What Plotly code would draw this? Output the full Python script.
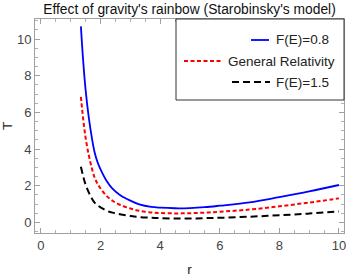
import plotly.graph_objects as go

r_vals = [1.34, 1.42, 1.5, 1.6, 1.7, 1.8, 1.9, 2.0, 2.2, 2.4, 2.65, 3.0, 3.3, 3.7,
          4.0, 4.5, 5.0, 5.5, 6.0, 7.0, 8.0, 9.0, 10.0]
T_f08 = [10.7, 8.75, 7.2, 5.78, 4.69, 3.83, 3.28, 2.89, 2.27, 1.84, 1.5, 1.19, 0.98, 0.84,
         0.8, 0.77, 0.78, 0.83, 0.91, 1.09, 1.38, 1.69, 2.04]
T_gr = [6.85, 5.6, 4.6, 3.7, 3.0, 2.45, 2.1, 1.85, 1.45, 1.18, 0.96, 0.76, 0.63, 0.54,
        0.51, 0.49, 0.5, 0.53, 0.58, 0.7, 0.88, 1.08, 1.31]
T_f15 = [3.04, 2.5, 2.05, 1.65, 1.33, 1.08, 0.93, 0.82, 0.64, 0.53, 0.44, 0.35, 0.29, 0.25,
         0.23, 0.21, 0.21, 0.23, 0.25, 0.31, 0.39, 0.48, 0.6]
series_names = ["F(E)=0.8", "General Relativity", "F(E)=1.5"]
x_ticks = [0, 2, 4, 6, 8, 10]
y_ticks = [0, 2, 4, 6, 8, 10]

W, H = 346, 277
L, R, T, B = 35, 344, 19, 233

def px(x):
    return (x - L) / (R - L)

def py(y):
    return (B - y) / (B - T)

fig = go.Figure()
fig.add_trace(go.Scatter(x=r_vals, y=T_f08, mode="lines", line=dict(color="#0000ff", width=1.8),
                         line_shape="spline", showlegend=False, name=series_names[0]))
fig.add_trace(go.Scatter(x=r_vals, y=T_gr, mode="lines", line=dict(color="#ff0000", width=2, dash="4px,2.5px"),
                         line_shape="spline", showlegend=False, name=series_names[1]))
fig.add_trace(go.Scatter(x=r_vals, y=T_f15, mode="lines", line=dict(color="#000000", width=2, dash="7px,4px"),
                         line_shape="spline", showlegend=False, name=series_names[2]))

font = "Liberation Sans, Arial, sans-serif"
axis_common = dict(
    showgrid=False, zeroline=False, showline=True, linecolor="#a0a0a0", linewidth=1,
    mirror="allticks", ticks="inside", ticklen=5, tickcolor="#a0a0a0", tickwidth=1,
    tickfont=dict(family=font, size=13, color="#444444"), automargin=False,
    ticklabeloverflow="allow",
    minor=dict(ticks="inside", ticklen=3, tickcolor="#b0b0b0", dtick=0.5, showgrid=False),
)

shapes = [
    dict(type="rect", xref="paper", yref="paper", x0=px(176), x1=1, y0=py(100), y1=1,
         line=dict(color="#333333", width=1), fillcolor="white", layer="above"),
    dict(type="line", xref="paper", yref="paper", x0=px(251), x1=px(269), y0=py(40), y1=py(40),
         line=dict(color="#0000ff", width=1.8)),
    dict(type="line", xref="paper", yref="paper", x0=px(184), x1=px(222), y0=py(61), y1=py(61),
         line=dict(color="#ff0000", width=2, dash="4px,2.5px")),
    dict(type="line", xref="paper", yref="paper", x0=px(232), x1=px(270), y0=py(82), y1=py(82),
         line=dict(color="#000000", width=2, dash="7px,4px")),
]
legend_font = dict(family=font, size=13.5, color="#222222")
annotations = [
    dict(xref="paper", yref="paper", x=px(331), y=py(40), text=series_names[0], showarrow=False,
         xanchor="right", yanchor="middle", font=legend_font),
    dict(xref="paper", yref="paper", x=px(337), y=py(61), text=series_names[1], showarrow=False,
         xanchor="right", yanchor="middle", font=legend_font),
    dict(xref="paper", yref="paper", x=px(331), y=py(82), text=series_names[2], showarrow=False,
         xanchor="right", yanchor="middle", font=legend_font),
]

fig.update_layout(
    width=W, height=H,
    margin=dict(l=L, r=W - R, t=T, b=H - B, pad=0, autoexpand=False),
    paper_bgcolor="white", plot_bgcolor="white",
    title=dict(text="Effect of gravity's rainbow (Starobinsky's model)", xref="paper", x=0.5,
               xanchor="center", y=1 - 9 / H, yanchor="middle",
               font=dict(family=font, size=13.8, color="#111111")),
    xaxis=dict(range=[-0.2, 10.17], tickvals=x_ticks, ticktext=[str(v) for v in x_ticks],
               title=dict(text="r", font=dict(family=font, size=13.5, color="#222222"), standoff=23),
               **axis_common),
    yaxis=dict(range=[-0.58, 11.1], tickvals=y_ticks, ticktext=[str(v) for v in y_ticks],
               title=dict(text="T", font=dict(family=font, size=13.5, color="#222222"), standoff=11),
               **axis_common),
    shapes=shapes, annotations=annotations,
)

fig.write_html("out.html", config={"displayModeBar": False},
               post_script="document.body.style.margin='0';document.body.style.overflow='hidden';")
